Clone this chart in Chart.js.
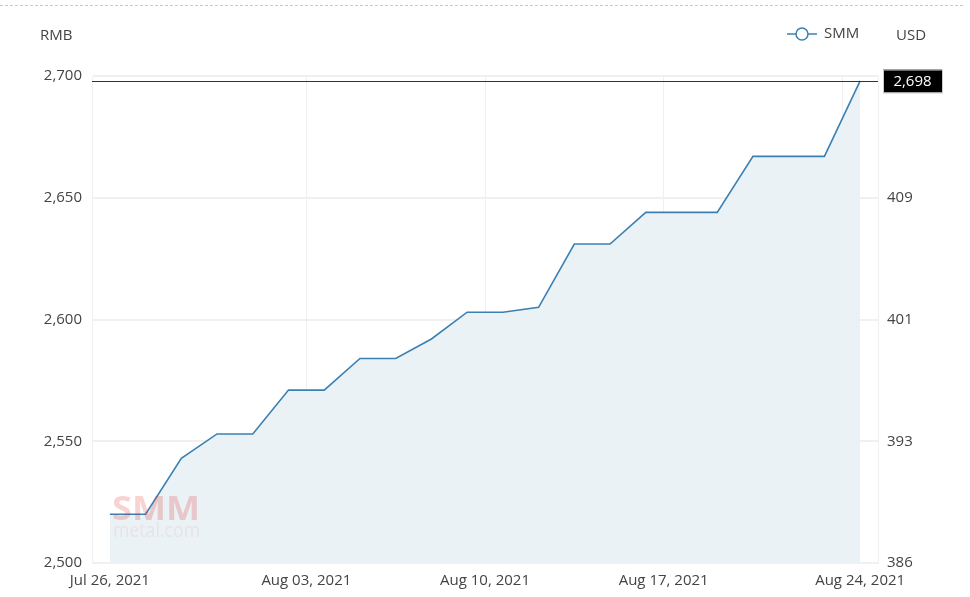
<!DOCTYPE html>
<html>
<head>
<meta charset="utf-8">
<script src="https://cdn.jsdelivr.net/npm/chart.js@4/dist/chart.umd.min.js"></script>
<style>
  html, body { margin: 0; padding: 0; background: #fff; }
  #wrap { position: relative; width: 970px; height: 597px; }
  canvas { display: block; }
</style>
</head>
<body>
<div id="wrap"><canvas id="c" width="970" height="597"></canvas></div>
<script>
// ---- data ----
const dates = ['2021-07-26','2021-07-27','2021-07-28','2021-07-29','2021-07-30',
  '2021-08-02','2021-08-03','2021-08-04','2021-08-05','2021-08-06',
  '2021-08-09','2021-08-10','2021-08-11','2021-08-12','2021-08-13',
  '2021-08-16','2021-08-17','2021-08-18','2021-08-19','2021-08-20',
  '2021-08-23','2021-08-24'];
const smmValues = [2520,2520,2543,2553,2553,
  2571,2571,2584,2584,2592,
  2603,2603,2605,2631,2631,
  2644,2644,2644,2667,2667,
  2667,2698];
const xTickDates = ['2021-07-26','2021-08-03','2021-08-10','2021-08-17','2021-08-24'];
const xTickLabels = ['Jul 26, 2021','Aug 03, 2021','Aug 10, 2021','Aug 17, 2021','Aug 24, 2021'];
const rmbTicks = [2500, 2550, 2600, 2650, 2700];
const usdTickLabels = ['386', '393', '401', '409', ''];
const seriesName = 'SMM';
const lastValue = smmValues[smmValues.length - 1];

const FONT = '"Open Sans", "Noto Sans", sans-serif';
const FS = 15;
const lineColor = '#3b80b2';
const fillColor = '#eaf2f6';
const gridColor = '#f0f0f0';
const textColor = '#444';

const nLast = dates.length - 1;
// tick positions on the index scale
const labelPos = xTickDates.map((d, i) => {
  const idx = dates.indexOf(d);
  return (i === 0 || i === xTickDates.length - 1) ? idx : idx - 0.5;
});
const gridPos = [-0.5].concat(xTickDates.slice(1).map(d => dates.indexOf(d) - 0.5)).concat([nLast + 0.5]);

const overlay = {
  id: 'overlay',
  beforeDraw(chart) {
    const ctx = chart.ctx;
    ctx.save();
    ctx.strokeStyle = '#c8c8c8';
    ctx.lineWidth = 1;
    ctx.setLineDash([3, 2]);
    ctx.beginPath();
    ctx.moveTo(0, 5.5); ctx.lineTo(965, 5.5);
    ctx.stroke();
    ctx.setLineDash([]);
    ctx.restore();
  },
  afterDatasetsDraw(chart) {
    const ctx = chart.ctx;
    const ca = chart.chartArea;
    const y = chart.scales.y;
    ctx.save();
    // watermark
    ctx.textAlign = 'left';
    ctx.textBaseline = 'alphabetic';
    ctx.font = 'bold 34px ' + FONT;
    let mw = ctx.measureText('SMM').width;
    ctx.save();
    ctx.translate(112, 520);
    ctx.scale(88 / mw, 1);
    ctx.globalAlpha = 0.2;
    ctx.fillStyle = '#e02020';
    ctx.fillText('SMM', 0, 0);
    ctx.restore();
    ctx.font = '20px ' + FONT;
    mw = ctx.measureText('metal.com').width;
    ctx.save();
    ctx.translate(113, 537);
    ctx.scale(87 / mw, 1);
    ctx.globalAlpha = 0.1;
    ctx.fillStyle = '#d06060';
    ctx.fillText('metal.com', 0, 0);
    ctx.restore();

    // last value line
    const py = Math.round(y.getPixelForValue(lastValue)) + 0.5;
    ctx.strokeStyle = '#333';
    ctx.lineWidth = 1;
    ctx.beginPath();
    ctx.moveTo(ca.left, py); ctx.lineTo(ca.right, py);
    ctx.stroke();
    // label box
    const txt = lastValue.toLocaleString('en-US');
    ctx.font = FS + 'px ' + FONT;
    const w = 59;
    ctx.fillStyle = '#000';
    ctx.fillRect(883, py - 12, w, 23);
    ctx.strokeStyle = '#ccc';
    ctx.strokeRect(883.5, py - 11.5, w, 23);
    ctx.fillStyle = '#fff';
    ctx.textAlign = 'center';
    ctx.textBaseline = 'middle';
    ctx.fillText(txt, 883 + w / 2, py + 0.5);

    // axis titles
    ctx.fillStyle = textColor;
    ctx.font = FS + 'px ' + FONT;
    ctx.textAlign = 'left';
    ctx.fillText('RMB', 40, 36);
    ctx.fillText('USD', 896, 36);

    // legend
    ctx.strokeStyle = lineColor;
    ctx.lineWidth = 1.5;
    ctx.beginPath();
    ctx.moveTo(787, 34); ctx.lineTo(817, 34);
    ctx.stroke();
    ctx.fillStyle = '#fff';
    ctx.beginPath();
    ctx.arc(802, 34, 6, 0, Math.PI * 2);
    ctx.fill(); ctx.stroke();
    ctx.fillStyle = textColor;
    ctx.fillText(seriesName, 824, 34);
    ctx.restore();
  }
};

new Chart(document.getElementById('c'), {
  type: 'line',
  data: {
    datasets: [{
      label: seriesName,
      data: smmValues.map((v, i) => ({ x: i, y: v })),
      borderColor: lineColor,
      backgroundColor: fillColor,
      fill: 'start',
      borderWidth: 1.6,
      pointRadius: 0,
      tension: 0,
      xAxisID: 'x',
      yAxisID: 'y'
    }]
  },
  options: {
    responsive: false,
    animation: false,
    devicePixelRatio: 1,
    layout: { padding: { top: 76, left: 0, right: 0, bottom: 0 } },
    plugins: { legend: { display: false }, tooltip: { enabled: false } },
    scales: {
      x: {
        type: 'linear',
        position: 'bottom',
        min: -0.5, max: nLast + 0.5,
        afterBuildTicks: s => { s.ticks = labelPos.map(v => ({ value: v })); },
        afterFit: s => { s.height = 34; },
        grid: { display: false, drawTicks: false },
        border: { display: false },
        ticks: {
          autoSkip: false, maxRotation: 0, padding: 9,
          color: textColor, font: { family: FONT, size: FS },
          callback: (v) => { const k = labelPos.indexOf(v); return k >= 0 ? xTickLabels[k] : ''; }
        }
      },
      xg: {
        type: 'linear',
        position: 'top',
        min: -0.5, max: nLast + 0.5,
        afterBuildTicks: s => { s.ticks = gridPos.map(v => ({ value: v })); },
        afterFit: s => { s.height = 0; },
        grid: { display: true, color: gridColor, drawTicks: false, lineWidth: 1 },
        border: { display: true, color: gridColor },
        ticks: { display: false }
      },
      y: {
        position: 'left',
        min: 2500, max: 2700,
        afterBuildTicks: s => { s.ticks = rmbTicks.map(v => ({ value: v })); },
        afterFit: s => { s.width = 92; },
        grid: { color: gridColor, drawTicks: false, lineWidth: 2 },
        border: { display: true, color: gridColor },
        ticks: {
          padding: 10, color: textColor, font: { family: FONT, size: FS },
          callback: v => v.toLocaleString('en-US')
        }
      },
      y2: {
        position: 'right',
        min: 2500, max: 2700,
        afterBuildTicks: s => { s.ticks = rmbTicks.map(v => ({ value: v })); },
        afterFit: s => { s.width = 92; },
        grid: { display: false, drawTicks: false },
        border: { display: true, color: gridColor },
        ticks: {
          padding: 9, color: textColor, font: { family: FONT, size: FS },
          callback: (v) => { const k = rmbTicks.indexOf(v); return k >= 0 ? usdTickLabels[k] : ''; }
        }
      }
    }
  },
  plugins: [overlay]
});
</script>
</body>
</html>
